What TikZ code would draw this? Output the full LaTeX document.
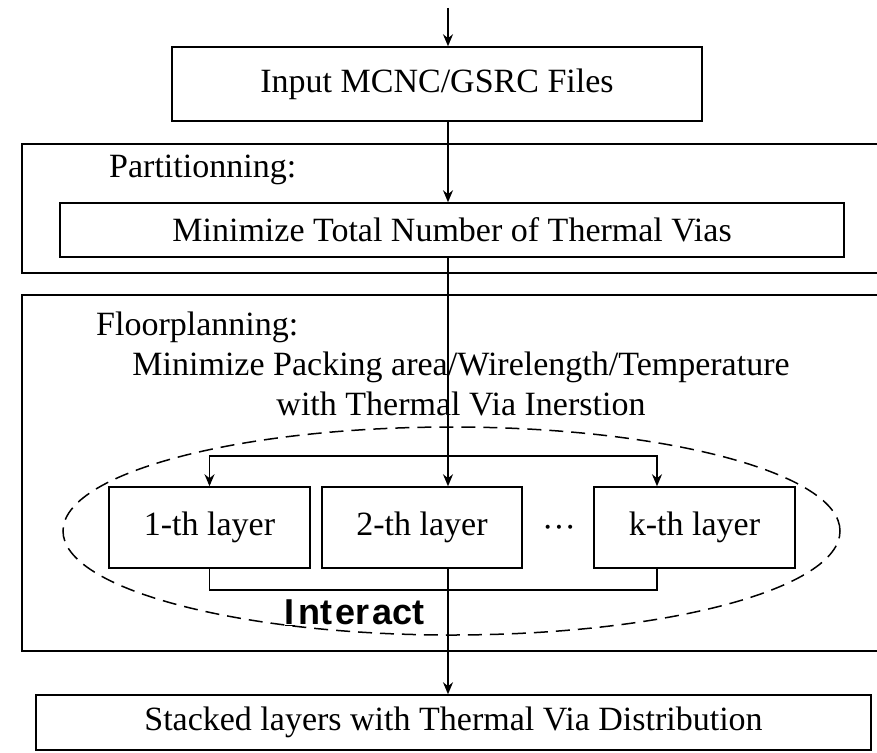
\documentclass[tikz,border=0pt]{standalone}
\usepackage{fontspec}
\setmainfont{Liberation Serif}
\newfontfamily\labelfont{Liberation Sans}
\usetikzlibrary{
    shapes,
    positioning,
    arrows.meta
}
\tikzset{component/.style={
    draw,
    line width=1.5pt,
    inner sep=0pt
}}
\tikzset{arrow/.style={->,>={Stealth[length=12pt,width=10pt]},line width=1.5pt}}
\tikzset{wire/.style={line width=1.5pt}}

\begin{document}
\begin{tikzpicture}[
            x=1pt, y=-1pt,
            align=center,
            font=\fontsize{34}{40}\selectfont,
    ]
        \useasboundingbox (0,0) rectangle (877,752);

        \node[component, minimum width=530pt, minimum height=74pt]
            (input) at (437,84)
            {Input MCNC/GSRC Files};

        % partitionning stage
        \node[component, anchor=north west, minimum width=900pt, minimum height=129pt]
            (part) at (21,143)
            {};

        \node[anchor=base west, inner sep=0pt]
            (part-label) at (109,177)
            {Partitionning:};

        \node[component, minimum width=784pt, minimum height=54pt]
            (minvias) at (452,230)
            {Minimize Total Number of Thermal Vias};

        % floorplanning stage
        \node[component, anchor=north west, minimum width=900pt, minimum height=356pt]
            (floor) at (21,294)
            {};

        \node[anchor=base west, inner sep=0pt]
            (floor-label) at (96,335)
            {Floorplanning:};

        \node[anchor=north, inner sep=0pt]
            (goal) at (461,352)
            {Minimize Packing area/Wirelength/Temperature\\with Thermal Via Inerstion};

        \node[draw, dashed, ellipse, line width=1.5pt, dash pattern=on 14pt off 8pt,
              minimum width=777pt, minimum height=208pt, inner sep=0pt]
            (layers) at (451.5,531)
            {};

        \node[component, minimum width=201pt, minimum height=81pt]
            (layer1) at (209.5,527.5)
            {1-th layer};

        \node[component, minimum width=200pt, minimum height=81pt]
            (layer2) at (422,527.5)
            {2-th layer};

        \node[inner sep=0pt]
            (dots) at (559,532)
            {···};

        \node[component, minimum width=201pt, minimum height=81pt]
            (layerk) at (694.5,527.5)
            {k-th layer};

        \node[anchor=base, inner sep=0pt, font=\labelfont\bfseries\fontsize{36}{40}\selectfont]
            (interact) at (355,624)
            {\underline{I}\kern4pt nt\kern3pt er\kern3pt act};

        \node[component, minimum width=835pt, minimum height=55pt]
            (stacked) at (453.5,722.5)
            {Stacked layers with Thermal Via Distribution};

        \coordinate (entry) at (448,8);
        \coordinate (split) at (448,456);
        \coordinate (merge) at (448,590);
        \coordinate (kport) at (657,0);

        \draw[arrow] (entry) -- (input.north -| entry);
        \draw[arrow] (input.south -| entry) -- (minvias.north -| entry);
        \draw[arrow] (minvias.south -| entry) -- (layer2.north -| entry);
        \draw[arrow] (split) -| (layer1.north);
        \draw[arrow] (split) -| (layerk.north -| kport);
        \draw[wire] (layer1.south) |- (merge) -| (layerk.south -| kport);
        \draw[arrow] (layer2.south -| entry) -- (stacked.north -| entry);

    \end{tikzpicture}
\end{document}
